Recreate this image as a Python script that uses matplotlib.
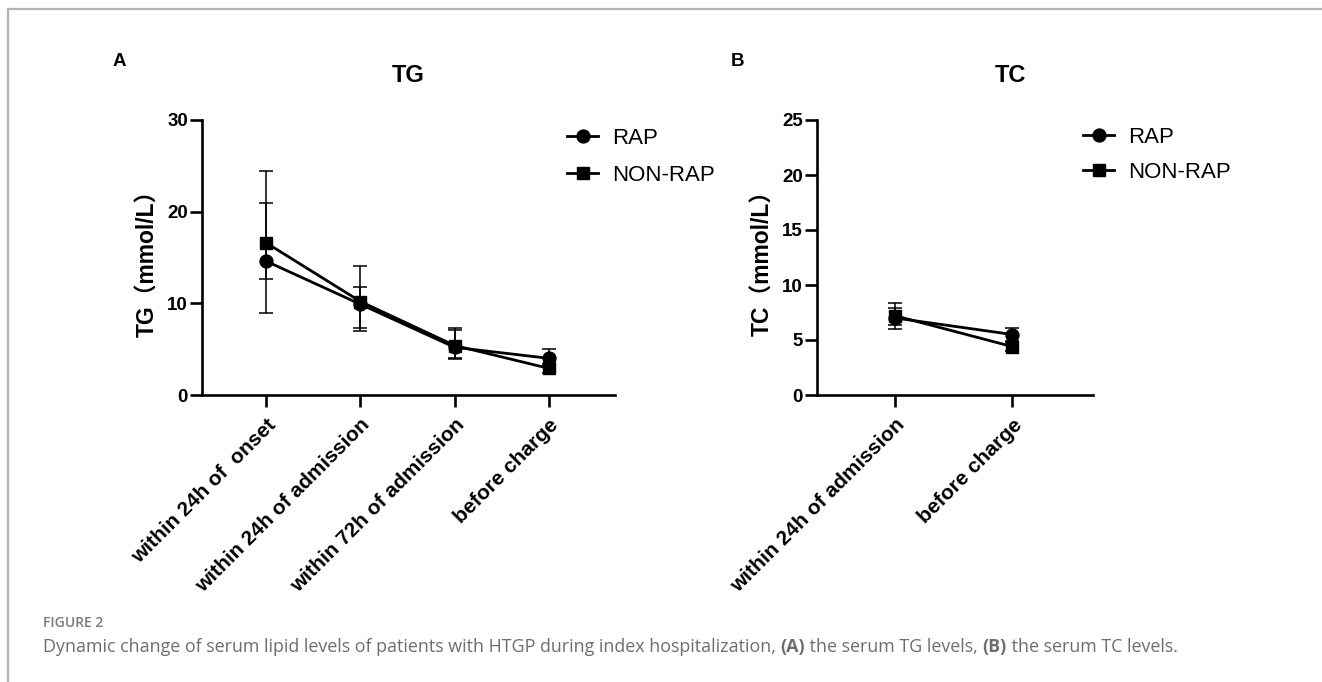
import matplotlib
matplotlib.use("Agg")
import matplotlib.pyplot as plt
from matplotlib.lines import Line2D
import numpy as np

# ---------------- data ----------------
tg_categories = ["within 24h of  onset", "within 24h of admission",
                 "within 72h of admission", "before charge"]
tg_rap = [14.6, 9.9, 5.2, 4.0]
tg_rap_upper = [21.0, 11.8, 7.1, 5.0]
tg_rap_lower = [12.7, 7.3, 3.9, 3.2]
tg_non = [16.6, 10.2, 5.4, 2.9]
tg_non_upper = [24.4, 14.1, 7.3, 3.4]
tg_non_lower = [8.9, 7.0, 4.0, 2.4]

tc_categories = ["within 24h of admission", "before charge"]
tc_rap = [7.0, 5.5]
tc_rap_upper = [8.4, 6.1]
tc_rap_lower = [6.0, 4.9]
tc_non = [7.2, 4.4]
tc_non_upper = [7.9, 4.8]
tc_non_lower = [6.4, 4.0]

series_names = ["RAP", "NON-RAP"]
tg_yticks = [0, 10, 20, 30]
tc_yticks = [0, 5, 10, 15, 20, 25]

W, H = 1322, 682
fig = plt.figure(figsize=(W / 100, H / 100), dpi=100)
fig.patch.set_facecolor("white")

SANS = ["Liberation Sans", "DejaVu Sans"]
LABEL_FAM = ["Liberation Sans", "Noto Sans CJK SC", "DejaVu Sans"]


def fx(px):
    return px / W


def fy(py):
    return 1 - py / H


def panel(rect, cats, rap, rap_lo, rap_hi, non, non_lo, non_hi, yticks, ylim, xlim, ylabel):
    ax = fig.add_axes(rect)
    x = np.arange(len(cats))
    for vals, lo, hi in [(rap, rap_lo, rap_hi), (non, non_lo, non_hi)]:
        vals = np.array(vals)
        yerr = np.vstack([vals - np.array(lo), np.array(hi) - vals])
        ax.errorbar(x, vals, yerr=yerr, fmt="none", ecolor="black",
                    elinewidth=1.1, capsize=4.7, capthick=1.1, zorder=2)
    l1, = ax.plot(x, rap, "-o", color="black", lw=2.0, ms=9.3, zorder=3)
    l2, = ax.plot(x, non, "-s", color="black", lw=2.0, ms=9.0, zorder=3)
    ax.set_xlim(*xlim)
    ax.set_ylim(*ylim)
    ax.set_yticks(yticks)
    ax.set_xticks(x)
    ax.set_xticklabels(cats, rotation=45, ha="right", rotation_mode="anchor",
                       fontsize=15, fontweight="bold", family=SANS)
    for lab in ax.get_yticklabels():
        lab.set_fontsize(13.5)
        lab.set_fontweight("bold")
        lab.set_family(SANS)
    for s in ["top", "right"]:
        ax.spines[s].set_visible(False)
    for s in ["left", "bottom"]:
        ax.spines[s].set_linewidth(1.9)
    ax.tick_params(axis="both", direction="out", length=8.5, width=1.9, pad=1.5)
    ax.tick_params(axis="x", pad=6)
    ax.set_ylabel(ylabel, fontsize=16.5, fontweight="bold", family=LABEL_FAM, labelpad=6)
    return ax, l1, l2


# Panel A
axA, a1, a2 = panel([fx(202), fy(395), fx(615) - fx(202), fy(120) - fy(395)],
                    tg_categories, tg_rap, tg_rap_lower, tg_rap_upper,
                    tg_non, tg_non_lower, tg_non_upper,
                    tg_yticks, (0, 30), (-0.68, 3.70), "TG（mmol/L）")
# Panel B
axB, b1, b2 = panel([fx(817), fy(395), fx(1093) - fx(817), fy(120) - fy(395)],
                    tc_categories, tc_rap, tc_rap_lower, tc_rap_upper,
                    tc_non, tc_non_lower, tc_non_upper,
                    tc_yticks, (0, 25), (-0.67, 1.69), "TC（mmol/L）")

for h1, h2, lx, ly, ls in [(a1, a2, 567, 128, 0.72), (b1, b2, 1083, 127, 0.62)]:
    fig.legend([h1, h2], series_names, loc="upper left",
               bbox_to_anchor=(fx(lx), fy(ly)), frameon=False,
               prop={"family": SANS, "size": 16}, handlelength=1.4,
               handletextpad=0.65, labelspacing=ls, borderpad=0,
               borderaxespad=0, markerscale=1.0)

# titles and panel letters
fig.text(fx(408), fy(76), "TG", ha="center", va="center", fontsize=17,
         fontweight="bold", family=SANS)
fig.text(fx(1010), fy(76), "TC", ha="center", va="center", fontsize=17,
         fontweight="bold", family=SANS)
fig.text(fx(113), fy(62), "A", ha="left", va="center", fontsize=13.5,
         fontweight="bold", family=SANS)
fig.text(fx(731), fy(62), "B", ha="left", va="center", fontsize=13.5,
         fontweight="bold", family=SANS)

# border lines
fig.add_artist(Line2D([fx(8), 1.0], [fy(9), fy(9)], color="#b4b4b4", lw=1.6))
fig.add_artist(Line2D([fx(8), fx(8)], [fy(9), 0.0], color="#b4b4b4", lw=1.6))

# caption
cap_col = "#6e6e6e"
fig.text(fx(43), fy(623), "FIGURE 2", ha="left", va="center", fontsize=10,
         fontweight="semibold", family=["Open Sans", "DejaVu Sans"], color="#7a7a7a")

pieces = [("Dynamic change of serum lipid levels of patients with HTGP during index hospitalization, ", "normal"),
          ("(A)", "bold"), (" the serum TG levels, ", "normal"),
          ("(B)", "bold"), (" the serum TC levels.", "normal")]
fig.canvas.draw()
renderer = fig.canvas.get_renderer()
xpos = 43
for txt, wt in pieces:
    t = fig.text(fx(xpos), fy(647), txt, ha="left", va="center", fontsize=12.9,
                 fontweight=wt, family=["Open Sans", "DejaVu Sans"], color=cap_col)
    bb = t.get_window_extent(renderer=renderer)
    xpos += bb.width

fig.savefig("out.png", dpi=100, facecolor="white")
